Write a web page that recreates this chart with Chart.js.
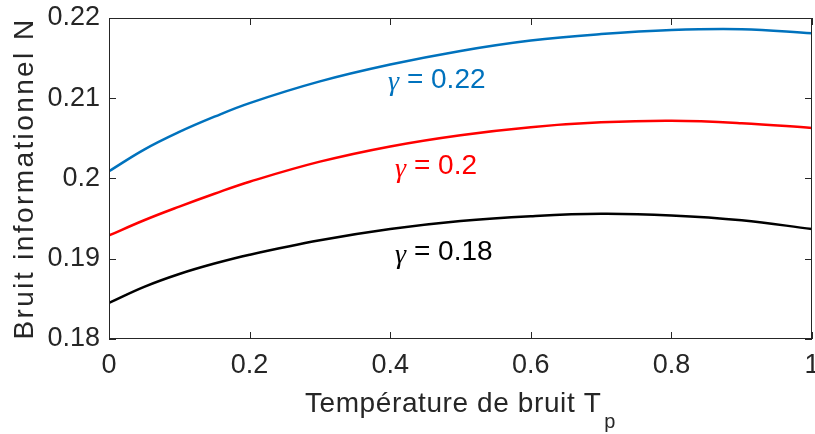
<!DOCTYPE html>
<html>
<head>
<meta charset="utf-8">
<script src="https://cdn.jsdelivr.net/npm/chart.js@4"></script>
<style>
  html, body { margin: 0; padding: 0; background: #fff; }
  #wrap { width: 815px; height: 434px; }
</style>
</head>
<body>
<div id="wrap"><canvas id="noiseChart" width="815" height="434"></canvas></div>
<script>
// values
const tValues    = [0, 0.05, 0.1, 0.15, 0.2, 0.3, 0.4, 0.5, 0.6, 0.7, 0.8, 0.9, 1.0];
const nGamma022  = [0.2009, 0.2036, 0.2058, 0.2077, 0.2094, 0.2121, 0.2142, 0.2159, 0.2172, 0.2180, 0.2185, 0.2186, 0.2181];
const nGamma020  = [0.1929, 0.1948, 0.1965, 0.1981, 0.1996, 0.2021, 0.2040, 0.2054, 0.2064, 0.2070, 0.2072, 0.2069, 0.2063];
const nGamma018  = [0.1845, 0.1865, 0.1881, 0.1894, 0.1905, 0.1923, 0.1937, 0.1947, 0.1953, 0.1956, 0.1954, 0.1948, 0.1937];
const gammaNames = ['0.22', '0.2', '0.18'];
const lineColors = ['#0072BD', '#FF0000', '#000000'];
// where each "γ = ..." annotation sits, in data units (T, N)
const labelT     = [0.397, 0.407, 0.407];
const labelN     = [0.2123, 0.2015, 0.1908];
const xTicks     = [0, 0.2, 0.4, 0.6, 0.8, 1];
const yTicks     = [0.18, 0.19, 0.2, 0.21, 0.22];

const axisColor = '#262626';
const sans = '"Liberation Sans", Arial, sans-serif';

function toPoints(ys) {
    return tValues.map((t, i) => ({ x: t, y: ys[i] }));
}

const seriesList = [nGamma022, nGamma020, nGamma018];

const datasets = seriesList.map((ys, i) => ({
    label: 'γ = ' + gammaNames[i],
    data: toPoints(ys),
    borderColor: lineColors[i],
    borderWidth: 2.5,
    pointRadius: 0,
    fill: false,
    tension: 0.4
}));

// box, inward ticks, axis titles and curve labels
const matlabLook = {
    id: 'matlabLook',
    afterDraw(chart) {
        const ctx = chart.ctx;
        const a = chart.chartArea;
        const xs = chart.scales.x, ys = chart.scales.y;
        ctx.save();
        ctx.strokeStyle = axisColor;
        ctx.lineWidth = 1;
        ctx.strokeRect(a.left + 0.5, a.top + 0.5, a.right - a.left - 1, a.bottom - a.top - 1);
        ctx.beginPath();
        xTicks.forEach(v => {
            const px = Math.round(xs.getPixelForValue(v)) + 0.5;
            ctx.moveTo(px, a.bottom); ctx.lineTo(px, a.bottom - 7);
            ctx.moveTo(px, a.top); ctx.lineTo(px, a.top + 7);
        });
        yTicks.forEach(v => {
            const py = Math.round(ys.getPixelForValue(v)) + 0.5;
            ctx.moveTo(a.left, py); ctx.lineTo(a.left + 7, py);
            ctx.moveTo(a.right, py); ctx.lineTo(a.right - 7, py);
        });
        ctx.stroke();

        // x title with subscript
        ctx.fillStyle = axisColor;
        ctx.textBaseline = 'alphabetic';
        ctx.letterSpacing = '0.6px';
        const main = 'Température de bruit T';
        ctx.font = '28px ' + sans;
        const wMain = ctx.measureText(main).width;
        ctx.font = '20px ' + sans;
        const wSub = ctx.measureText('p').width;
        const x0 = (a.left + a.right) / 2 - (wMain + 3 + wSub) / 2;
        ctx.font = '28px ' + sans;
        ctx.textAlign = 'left';
        ctx.fillText(main, x0, 412);
        ctx.font = '20px ' + sans;
        ctx.fillText('p', x0 + wMain + 3, 428);

        // y title
        ctx.save();
        ctx.translate(33, (a.top + a.bottom) / 2);
        ctx.rotate(-Math.PI / 2);
        ctx.font = '28px ' + sans;
        ctx.letterSpacing = '2.4px';
        ctx.textAlign = 'center';
        ctx.fillText('Bruit informationnel N', 0, 0);
        ctx.restore();

        // curve labels
        ctx.letterSpacing = '0px';
        ctx.textBaseline = 'middle';
        ctx.textAlign = 'left';
        gammaNames.forEach((g, i) => {
            const px = xs.getPixelForValue(labelT[i]);
            const py = ys.getPixelForValue(labelN[i]);
            ctx.fillStyle = lineColors[i];
            ctx.font = 'italic 28px "Liberation Serif", "Times New Roman", serif';
            ctx.fillText('γ', px, py + 3);
            const wg = ctx.measureText('γ').width;
            ctx.font = '28px ' + sans;
            ctx.fillText(' = ' + g, px + wg, py);
        });
        ctx.restore();
    }
};

const config = {
    type: 'line',
    data: { datasets: datasets },
    options: {
        responsive: false,
        animation: false,
        layout: { padding: { top: 18, right: 3, left: 0, bottom: 0 } },
        plugins: {
            legend: { display: false },
            tooltip: { enabled: false }
        },
        scales: {
            x: {
                type: 'linear',
                min: 0,
                max: 1,
                afterFit: s => { s.height = 95; s.paddingLeft = 0; s.paddingRight = 0; },
                afterBuildTicks: s => { s.ticks = xTicks.map(v => ({ value: v })); },
                grid: { display: false, drawTicks: false },
                border: { display: false },
                ticks: {
                    color: axisColor,
                    font: { family: sans, size: 27 },
                    padding: 10,
                    maxRotation: 0,
                    autoSkip: false,
                    callback: v => String(Number(v.toFixed(2)))
                }
            },
            y: {
                type: 'linear',
                min: 0.18,
                max: 0.22,
                afterFit: s => { s.width = 109; s.paddingTop = 0; s.paddingBottom = 0; },
                afterBuildTicks: s => { s.ticks = yTicks.map(v => ({ value: v })); },
                grid: { display: false, drawTicks: false },
                border: { display: false },
                ticks: {
                    color: axisColor,
                    font: { family: sans, size: 27 },
                    padding: 9,
                    autoSkip: false,
                    callback: v => String(Number(v.toFixed(2)))
                }
            }
        }
    },
    plugins: [matlabLook]
};

new Chart(document.getElementById('noiseChart').getContext('2d'), config);
</script>
</body>
</html>
